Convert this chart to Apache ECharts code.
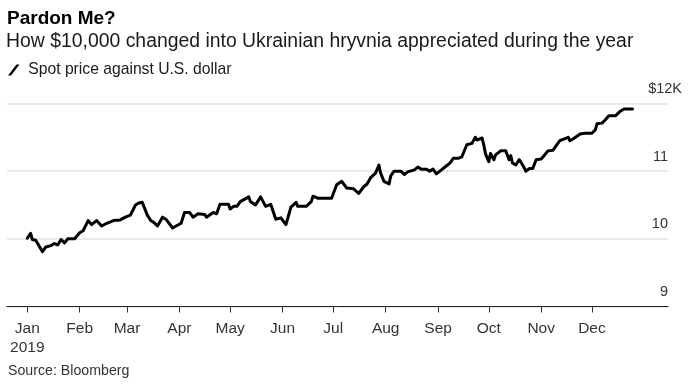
<!DOCTYPE html>
<html>
<head>
<meta charset="utf-8">
<script src="https://cdn.jsdelivr.net/npm/echarts@6/dist/echarts.min.js"></script>
<style>
html,body{margin:0;padding:0;background:#fff;}
#chart{width:692px;height:385px;}
</style>
</head>
<body>
<div id="chart"></div>
<script>
// ---- Data ----
const dates = [
  '2019-01-01','2019-01-03','2019-01-04','2019-01-06','2019-01-10','2019-01-12','2019-01-15','2019-01-17','2019-01-19','2019-01-21',
  '2019-01-23','2019-01-25','2019-01-29','2019-02-01','2019-02-03','2019-02-06','2019-02-07','2019-02-08','2019-02-11','2019-02-14',
  '2019-02-17','2019-02-21','2019-02-25','2019-02-28','2019-03-03','2019-03-06','2019-03-08','2019-03-10','2019-03-13','2019-03-15',
  '2019-03-17','2019-03-19','2019-03-22','2019-03-24','2019-03-28','2019-03-30','2019-04-02','2019-04-04','2019-04-07','2019-04-09',
  '2019-04-12','2019-04-16','2019-04-17','2019-04-21','2019-04-23','2019-04-25','2019-04-30','2019-05-01','2019-05-03','2019-05-05',
  '2019-05-07','2019-05-12','2019-05-13','2019-05-16','2019-05-19','2019-05-22','2019-05-25','2019-05-28','2019-05-31','2019-06-03',
  '2019-06-06','2019-06-09','2019-06-10','2019-06-15','2019-06-18','2019-06-19','2019-06-22','2019-06-30','2019-07-03','2019-07-06',
  '2019-07-09','2019-07-13','2019-07-16','2019-07-19','2019-07-21','2019-07-23','2019-07-26','2019-07-28','2019-07-29','2019-07-31',
  '2019-08-03','2019-08-04','2019-08-06','2019-08-10','2019-08-12','2019-08-14','2019-08-18','2019-08-20','2019-08-22','2019-08-25',
  '2019-08-27','2019-08-29','2019-08-31','2019-09-03','2019-09-06','2019-09-08','2019-09-10','2019-09-13','2019-09-15','2019-09-18',
  '2019-09-21','2019-09-23','2019-09-24','2019-09-27','2019-09-28','2019-09-29','2019-10-01','2019-10-02','2019-10-04','2019-10-05',
  '2019-10-08','2019-10-11','2019-10-13','2019-10-14','2019-10-15','2019-10-17','2019-10-19','2019-10-21','2019-10-23','2019-10-25',
  '2019-10-27','2019-10-29','2019-11-01','2019-11-03','2019-11-05','2019-11-08','2019-11-12','2019-11-17','2019-11-18','2019-11-20',
  '2019-11-24','2019-11-27','2019-12-01','2019-12-03','2019-12-04','2019-12-07','2019-12-09','2019-12-11','2019-12-15','2019-12-18',
  '2019-12-20','2019-12-25'
];
const values = [
  10.01,10.08,9.99,9.98,9.81,9.88,9.90,9.93,9.91,9.99,
  9.94,10.00,10.00,10.09,10.12,10.27,10.29,10.21,10.27,10.19,
  10.23,10.27,10.28,10.32,10.35,10.50,10.53,10.54,10.35,10.27,
  10.24,10.19,10.32,10.29,10.16,10.19,10.23,10.39,10.39,10.32,
  10.37,10.36,10.32,10.39,10.37,10.51,10.51,10.44,10.48,10.48,
  10.55,10.62,10.55,10.50,10.62,10.48,10.51,10.29,10.31,10.21,
  10.47,10.54,10.48,10.48,10.55,10.63,10.60,10.60,10.80,10.85,
  10.75,10.74,10.67,10.77,10.81,10.90,10.97,11.09,10.97,10.85,
  10.81,10.93,11.00,11.00,10.95,10.99,11.02,11.06,11.03,11.03,
  11.00,11.03,10.96,11.02,11.08,11.12,11.19,11.19,11.21,11.39,
  11.41,11.50,11.46,11.49,11.39,11.26,11.14,11.26,11.17,11.24,
  11.30,11.30,11.17,11.23,11.12,11.09,11.17,11.09,11.00,11.04,
  11.04,11.17,11.18,11.24,11.30,11.31,11.45,11.50,11.45,11.48,
  11.55,11.56,11.56,11.61,11.70,11.71,11.76,11.82,11.82,11.89,
  11.92,11.92
];
const monthTicks = ['2019-01-01','2019-02-01','2019-03-01','2019-04-01','2019-05-01','2019-06-01',
                    '2019-07-01','2019-08-01','2019-09-01','2019-10-01','2019-11-01','2019-12-01'];
const monthLabels = ['Jan','Feb','Mar','Apr','May','Jun','Jul','Aug','Sep','Oct','Nov','Dec'];
const yearLabel = '2019';
const yTicks = [9, 10, 11, 12];

const titleText = 'Pardon Me?';
const subtitleText = 'How $10,000 changed into Ukrainian hryvnia appreciated during the year';
const seriesName = 'Spot price against U.S. dollar';
const sourceText = 'Source: Bloomberg';

// ---- Chart ----
const FONT = 'Liberation Sans, Arial, sans-serif';
const DAY = 86400000;
const toDay = s => { const p = s.split('-'); return Math.round((Date.UTC(+p[0], +p[1]-1, +p[2]) - Date.UTC(2019, 0, 1)) / DAY); };
const tickDays = monthTicks.map(toDay);

const chart = echarts.init(document.getElementById('chart'), null, {renderer: 'canvas'});
chart.setOption({
  animation: false,
  backgroundColor: '#ffffff',
  title: [
    {text: titleText, left: 7, top: 9, padding: 0,
     textStyle: {fontFamily: FONT, fontSize: 19, fontWeight: 'bold', color: '#000'}},
    {text: subtitleText, left: 6, top: 32, padding: 0,
     textStyle: {fontFamily: FONT, fontSize: 19.4, fontWeight: 'normal', color: '#1a1a1a'}},
    {text: sourceText, left: 8, top: 364, padding: 0,
     textStyle: {fontFamily: FONT, fontSize: 14.2, fontWeight: 'normal', color: '#333'}}
  ],
  legend: {
    left: 8, top: 62, padding: 0,
    itemWidth: 12, itemHeight: 11,
    icon: 'path://M0,11 L8.5,0 L11.5,0 L3,11 Z',
    textStyle: {fontFamily: FONT, fontSize: 15.7, color: '#1a1a1a', padding: [0, 0, 0, 3.5]},
    data: [{name: seriesName, itemStyle: {color: '#000'}}]
  },
  grid: {left: 7, right: 24, top: 103.5, bottom: 78.5, containLabel: false},
  xAxis: {
    type: 'value',
    min: toDay('2018-12-20'),
    max: toDay('2020-01-15'),
    axisLine: {show: true, onZero: false, lineStyle: {color: '#222', width: 1}},
    axisTick: {show: true, length: 6, customValues: tickDays, lineStyle: {color: '#333', width: 1}},
    splitLine: {show: false},
    axisLabel: {
      customValues: tickDays,
      margin: 12,
      fontFamily: FONT, fontSize: 15.5, lineHeight: 19.7, color: '#333',
      formatter: function (v) {
        const i = tickDays.indexOf(v);
        if (i < 0) return '';
        return i === 0 ? monthLabels[i] + '\n' + yearLabel : monthLabels[i];
      }
    }
  },
  yAxis: {
    type: 'value',
    position: 'right',
    min: 9, max: 12, interval: 1,
    axisLine: {show: false},
    axisTick: {show: false},
    splitLine: {show: true, lineStyle: {color: '#e3e3e3', width: 1.5}},
    axisLabel: {
      inside: true, margin: 0,
      verticalAlign: 'bottom',
      padding: [0, 0, 7, 0],
      fontFamily: FONT, fontSize: 14.5, color: '#333',
      formatter: function (v) { return v === yTicks[yTicks.length - 1] ? '{k|$' + v + 'K}' : String(v); },
      rich: {k: {fontFamily: FONT, fontSize: 14.5, color: '#333', padding: [0, -14, 0, 0]}}
    }
  },
  series: [{
    name: seriesName,
    type: 'line',
    data: dates.map((d, i) => [toDay(d), values[i]]),
    showSymbol: false,
    symbol: 'none',
    lineStyle: {color: '#000', width: 3, join: 'round', cap: 'round'},
    itemStyle: {color: '#000'},
    z: 5
  }]
});
</script>
</body>
</html>
